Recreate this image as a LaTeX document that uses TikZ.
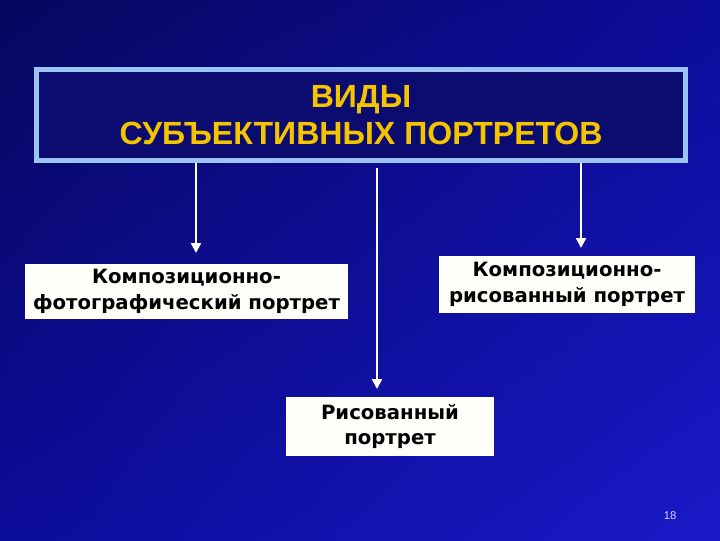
\documentclass[tikz,border=0pt]{standalone}
\usepackage{fontspec}
\setmainfont{Liberation Sans}
\newfontfamily\boxfont{DejaVu Sans}
\usetikzlibrary{arrows.meta,shadings}

\definecolor{slidedark}{HTML}{07075E}
\definecolor{slidemid}{HTML}{0C0C9A}
\definecolor{slidebright}{HTML}{1A1AC8}
\definecolor{titlefill}{HTML}{0B0B70}
\definecolor{titleframe}{HTML}{9CC4F2}
\definecolor{titletext}{HTML}{F5C400}
\definecolor{boxfill}{HTML}{FFFFFA}

\begin{document}
\begin{tikzpicture}[x=0.025cm, y=-0.025cm, >={Triangle[width=7pt,length=7pt]},
  kind/.style={fill=boxfill, inner sep=0pt, align=center, text=black,
    font=\boxfont\bfseries\fontsize{14}{18}\selectfont},
  link/.style={white, line width=1.5pt, ->}]
  % Background
  \shade[upper left=slidedark, upper right=slidemid, lower left=slidemid, lower right=slidebright]
    (0,0) rectangle (720,540);
  \useasboundingbox (0,0) rectangle (720,540);
  % Title
  \node[draw=titleframe, line width=3pt, fill=titlefill, minimum width=649*0.025cm,
    minimum height=91*0.025cm, inner sep=0pt, align=center, text=titletext,
    font=\bfseries\fontsize{22.8}{26}\selectfont]
    (title) at (361,115) {ВИДЫ\\СУБЪЕКТИВНЫХ ПОРТРЕТОВ};
  % Kinds of portraits
  \node[kind, minimum width=323*0.025cm, minimum height=55*0.025cm] (photo) at (186.5,291.5)
    {Композиционно-\\фотографический портрет};
  \node[kind, minimum width=256*0.025cm, minimum height=57*0.025cm] (drawn) at (567,284.5)
    {Композиционно-\\рисованный портрет};
  \node[kind, minimum width=208*0.025cm, minimum height=59*0.025cm] (sketch) at (390,426.5)
    {Рисованный\\портрет};
  % Arrow ends
  \coordinate (phototip) at (196,253);
  \coordinate (drawntip) at (581,248);
  \coordinate (sketchtip) at (377,389);
  \coordinate (sketchtop) at (377,168);
  \draw[link] (title.south -| phototip) -- (phototip);
  \draw[link] (title.south -| drawntip) -- (drawntip);
  \draw[link] (sketchtop) -- (sketchtip);
  % Slide number
  \node[text=white!85!blue, font=\fontsize{8}{10}\selectfont] (pagenum) at (670,516) {18};
\end{tikzpicture}
\end{document}
